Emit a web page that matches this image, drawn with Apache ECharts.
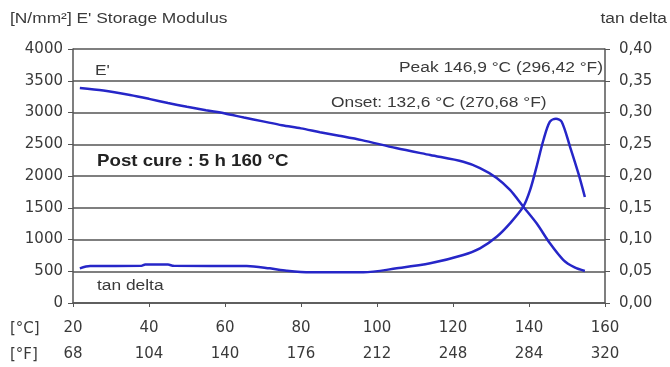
<!DOCTYPE html>
<html><head><meta charset="utf-8">
<script src="https://cdn.jsdelivr.net/npm/echarts@6/dist/echarts.min.js"></script>
<style>html,body{margin:0;padding:0;background:#fff}#c{width:670px;height:367px}</style>
</head><body><div id="c"></div>
<script>
// Temperature [°C], E' storage modulus [N/mm²]
const eTemps = [21.8, 28, 35, 40, 45, 50, 55, 60, 65, 70, 75, 80, 85, 90, 96, 105, 114, 122.7, 127.1, 131.5, 135, 138.5, 142, 145.5, 149, 152, 154.7];
const eValues = [3385, 3345, 3275, 3215, 3150, 3090, 3035, 2985, 2920, 2860, 2800, 2750, 2690, 2635, 2565, 2440, 2330, 2225, 2125, 1970, 1780, 1517, 1255, 940, 680, 560, 505];
// Temperature [°C], tan delta
const tTemps = [21.8, 24.5, 38, 39, 45, 46.5, 65.7, 71.8, 76.2, 82.4, 96.4, 105.2, 114, 122.7, 127.1, 131.5, 135, 138.5, 140.3, 142, 143.8, 145.5, 147.1, 148.6, 150.8, 153, 154.7];
const tValues = [0.0546, 0.0583, 0.0585, 0.0605, 0.0605, 0.0585, 0.0583, 0.0546, 0.0509, 0.0483, 0.0483, 0.0546, 0.0625, 0.0756, 0.0861, 0.1044, 0.1255, 0.1517, 0.178, 0.2147, 0.2567, 0.2855, 0.29, 0.2855, 0.246, 0.204, 0.167];
// Tick labels
const cTicks = ['20', '40', '60', '80', '100', '120', '140', '160'];
const fTicks = ['68', '104', '140', '176', '212', '248', '284', '320'];
const eTicks = ['0', '500', '1000', '1500', '2000', '2500', '3000', '3500', '4000'];
const tanTicks = ['0,00', '0,05', '0,10', '0,15', '0,20', '0,25', '0,30', '0,35', '0,40'];

const FONT = '"Liberation Sans", Arial, sans-serif';
const AXF = '"DejaVu Sans", sans-serif';
const TXT = '#3a3a3a';
const LINE = '#2626c8';
const GRIDC = '#555';
const SX = 1.24;

const chart = echarts.init(document.getElementById('c'), null, {renderer: 'canvas'});
const lab = (arr, min, step) => (v) => { const i = Math.round((v - min) / step); return arr[i] !== undefined ? arr[i] : ''; };

const txt = (x, y, text, font, align, fill, sx) => ({
  type: 'text', x: x, y: y, scaleX: sx || SX, scaleY: 1,
  style: {text: text, font: font, fill: fill || TXT, textAlign: align || 'left', textVerticalAlign: 'middle'}
});

chart.setOption({
  animation: false,
  backgroundColor: '#fff',
  grid: {left: 73, right: 65, top: 49, bottom: 64, containLabel: false},
  xAxis: [
    {type: 'value', min: 20, max: 160, interval: 20, position: 'bottom',
     axisLine: {lineStyle: {color: GRIDC, width: 1.5}},
     axisTick: {show: true, length: 4, lineStyle: {color: GRIDC}},
     axisLabel: {color: TXT, fontFamily: AXF, fontSize: 15, margin: 18, formatter: lab(cTicks, 20, 20)},
     splitLine: {show: false}},
    {type: 'value', min: 20, max: 160, interval: 20, position: 'bottom', offset: 26,
     axisLine: {show: false}, axisTick: {show: false},
     axisLabel: {color: TXT, fontFamily: AXF, fontSize: 15, margin: 18, formatter: lab(fTicks, 20, 20)},
     splitLine: {show: false}}
  ],
  yAxis: [
    {type: 'value', min: 0, max: 4000, interval: 500, position: 'left',
     axisLine: {show: true, lineStyle: {color: GRIDC, width: 1.5}},
     axisTick: {show: true, length: 5, lineStyle: {color: GRIDC}},
     axisLabel: {color: TXT, fontFamily: AXF, fontSize: 15, margin: 10, formatter: lab(eTicks, 0, 500)},
     splitLine: {show: true, lineStyle: {color: GRIDC, width: 1.5}}},
    {type: 'value', min: 0, max: 0.4, interval: 0.05, position: 'right',
     axisLine: {show: true, lineStyle: {color: GRIDC, width: 1.5}},
     axisTick: {show: true, length: 5, lineStyle: {color: GRIDC}},
     axisLabel: {color: TXT, fontFamily: AXF, fontSize: 15, margin: 14, formatter: lab(tanTicks, 0, 0.05)},
     splitLine: {show: false}}
  ],
  series: [
    {name: "E'", type: 'line', xAxisIndex: 0, yAxisIndex: 0, smooth: 0.3, showSymbol: false,
     lineStyle: {color: LINE, width: 2.5}, data: eTemps.map((t, i) => [t, eValues[i]])},
    {name: 'tan delta', type: 'line', xAxisIndex: 0, yAxisIndex: 1, smooth: 0.3, showSymbol: false,
     lineStyle: {color: LINE, width: 2.5}, data: tTemps.map((t, i) => [t, tValues[i]])}
  ],
  graphic: [
    txt(10, 19, "[N/mm²] E' Storage Modulus", '14px ' + FONT),
    txt(667, 19, 'tan delta', '14px ' + FONT, 'right'),
    txt(95, 71, "E'", '14px ' + FONT),
    txt(97, 286, 'tan delta', '14px ' + FONT),
    txt(97, 161, 'Post cure : 5 h 160 °C', 'bold 17px ' + FONT, 'left', '#222', 1.1),
    txt(603, 68, 'Peak 146,9 °C (296,42 °F)', '14px ' + FONT, 'right'),
    txt(331, 103, 'Onset: 132,6 °C (270,68 °F)', '14px ' + FONT),
    txt(10, 329, '[°C]', '15px ' + AXF, 'left', TXT, 1),
    txt(10, 355, '[°F]', '15px ' + AXF, 'left', TXT, 1)
  ]
});
</script></body></html>
